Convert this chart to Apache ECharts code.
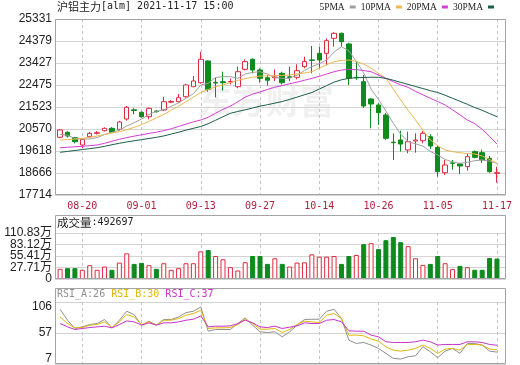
<!DOCTYPE html>
<html><head><meta charset="utf-8">
<script src="https://cdn.jsdelivr.net/npm/echarts@6/dist/echarts.min.js"></script>
<style>html,body{margin:0;padding:0;background:#fff}#c{width:520px;height:365px}</style>
</head><body><div id="c"></div>
<script>
// ---------------- data ----------------
const productName = '沪铝主力';
const productCode = '[alm]';
const stamp = '2021-11-17 15:00';
const dates = ['08-17','08-18','08-19','08-20','08-23','08-24','08-25','08-26','08-27','08-30','08-31',
  '09-01','09-02','09-03','09-06','09-07','09-08','09-09','09-10','09-13','09-14','09-15','09-16','09-17',
  '09-22','09-23','09-24','09-27','09-28','09-29','09-30','10-08','10-11','10-12','10-13','10-14','10-15',
  '10-18','10-19','10-20','10-21','10-22','10-25','10-26','10-27','10-28','10-29','11-01','11-02','11-03',
  '11-04','11-05','11-08','11-09','11-10','11-11','11-12','11-15','11-16','11-17'];
const xTickLabels = ['08-20','09-01','09-13','09-27','10-14','10-26','11-05','11-17'];
const priceTicks = ['17714','18666','19618','20570','21523','22475','23427','24379','25331'];
const volTicks = ['0','27.71万','55.41万','83.12万','110.83万'];
const volTickValues = [0, 277075, 554150, 831225, 1108300];
const rsiTicks = ['7','57','106'];
const rsiTickValues = [7, 56.5, 106];

const open  = [20211,20428,20194,19878,20237,20381,20497,20600,20557,21003,21400,21293,21103,21350,21393,21730,21752,21968,22402,22575,23514,22590,22618,22600,22402,23154,23587,23124,22790,22790,22980,22830,22808,23268,23560,23846,23846,24496,24712,24250,22808,22618,21869,21609,21176,20000,20094,19662,20051,20064,20237,19777,18680,19100,19056,18940,19590,19547,19302,18650];
const close = [20527,20268,20021,20124,20381,20410,20600,20428,20873,21510,21370,21103,21466,21320,21752,21760,21925,22475,22648,23587,22288,22560,22575,22625,23050,23485,23124,22764,22680,22820,22575,22800,23095,23485,23540,23557,24394,24712,24349,22764,22790,21566,21652,21276,20168,19980,19921,20021,20094,20384,19835,18723,19013,19085,18970,19374,19345,19230,18723,18680];
const low   = [20170,20200,19950,19735,20200,20330,20460,20400,20500,20930,21207,21060,20990,21280,21350,21690,21720,21930,22380,22540,22186,21942,22230,22500,22330,23100,22980,22575,22450,22650,22500,22650,22720,23197,22980,23197,23340,24134,24134,22475,22700,21480,20600,20743,20100,19230,19590,19518,19545,19950,19705,18506,18580,18810,18622,18766,19300,19100,18680,18247];
const high  = [20570,20470,20230,20150,20440,20480,20640,20650,20920,21566,21470,21330,21500,21380,21968,21820,22085,22520,22864,23916,23540,22790,23050,22750,23268,23587,23630,23197,22900,23150,23050,23268,23370,23700,24163,24134,24495,24760,24740,24300,23500,22908,21900,21700,21263,20384,20497,20453,20384,20480,20340,19850,19230,19230,19100,19518,19640,19680,19400,18939];
const volume = [245000,261000,261000,221000,333000,221000,300000,221000,395000,618000,364000,388000,333000,245000,380000,221000,261000,380000,380000,666000,697000,554000,476000,285000,205000,404000,554000,554000,364000,499000,364000,300000,395000,402000,594000,538000,538000,554000,364000,554000,578000,839000,863000,720000,935000,1013000,887000,792000,499000,340000,364000,554000,380000,238000,316000,285000,221000,221000,507000,492697];

const ma5  = [20341,20300,20160,20138,20140,20200,20330,20420,20520,20700,20843,21000,21200,21330,21400,21550,21700,21900,22100,22475,22548,22800,22835,22835,22764,22950,23020,23050,22950,22800,22764,22764,22900,23100,23268,23400,23557,23900,24134,23950,23500,23000,22300,21850,21350,20817,20350,20021,19930,19830,19600,19445,19250,19150,19085,19130,19200,19229,19180,19085];
const ma10 = [20094,20110,20130,20168,20210,20267,20330,20400,20454,20540,20640,20760,20900,21050,21200,21380,21560,21750,21950,22150,22280,22400,22475,22580,22680,22750,22810,22864,22870,22880,22890,22908,22950,23000,23050,23200,23350,23480,23540,23557,23500,23380,23200,22980,22764,22300,21826,21380,20960,20520,20094,19850,19662,19590,19545,19510,19488,19400,19250,19085];
const ma20 = [19761,19780,19800,19820,19850,19878,19950,20040,20124,20200,20260,20320,20380,20430,20500,20580,20680,20780,20880,20960,21080,21250,21420,21560,21750,21950,22080,22172,22280,22380,22450,22530,22600,22680,22760,22850,22950,23050,23120,23150,23140,23100,23050,22900,22764,22620,22480,22374,22200,22050,21900,21760,21610,21400,21180,20960,20800,20560,20250,19921];
const ma30 = [19562,19600,19640,19680,19720,19760,19820,19890,19952,20010,20060,20110,20160,20210,20270,20350,20430,20520,20600,20680,20800,20950,21100,21250,21330,21400,21480,21560,21620,21690,21760,21850,21950,22050,22150,22300,22450,22600,22700,22764,22790,22800,22810,22808,22760,22680,22590,22500,22410,22320,22230,22150,22030,21900,21770,21640,21500,21380,21240,21103];
const maNames = ['5PMA','10PMA','20PMA','30PMA'];

const rsiA = [94.4,76.9,63.7,66.3,70,71.6,78,64.7,76.9,91.2,85.9,69,75.3,69,78,78,82.2,89.1,91.2,98.1,59.4,62.1,62.1,62.1,71.6,80.6,69,58.4,57.3,58.4,50.4,58.4,69,78,78.5,78.5,91.2,94.4,79.6,45,39.8,41.4,37.2,31.9,23.9,16,14.9,18.6,20.2,34.5,26.6,17,27.6,31.9,23.9,39.8,39.8,37.2,27.6,26];
const rsiB = [82.2,71.6,64.7,65.2,69,70,74.3,65.2,74.3,85.9,82.2,70,74.3,69,76.9,76.9,79.6,84.9,87.5,92.8,63.7,64.7,64.7,65.2,70,78.5,71.6,62.6,62.6,63.7,57.3,62.1,70,75.3,74.3,73.2,84.9,87.5,79.6,53,53.1,52,46.7,43.5,34.5,29.2,27.6,29.2,31.9,37.2,31.9,23.9,30.8,31.9,29.2,38.2,38.2,37.2,30.8,30];
const rsiC = [71.6,66.3,62.1,63.7,65.2,66.3,67.4,64.7,70,75.8,74.3,69,72.7,69,72.7,72.7,74.3,76.9,78.5,83.8,66.3,67.4,67.4,67.9,71.6,76.9,72.7,66.3,65.2,67.4,63.7,65.8,67.9,72.7,71.6,71.6,76.9,78,74.3,60,59.4,59.4,53.1,50.4,42.5,41.4,41.4,41.4,42.5,45.1,42.5,37.2,38.2,38.2,38.2,42.5,42.5,41.4,38.2,37];
const rsiNames = ['RSI_A','RSI_B','RSI_C'];

// ---------------- style / layout ----------------
const RED = '#dd2c3e', GREEN = '#0e8a1e';
const maColors = ['#a0a0a0','#ecb850','#d63cd6','#1b5e4a'];
const rsiColors = ['#909090','#e3b70c','#c832c8'];
const GRID_L = 55, GRID_W = 451;
const X_MIN = -0.69, X_MAX = 60.22;
const FRAME = '#a4a4a4', SPLIT = '#d4d4d4', VDASH = '#c4c4c4';
const MONO = "'DejaVu Sans Mono','Liberation Mono',monospace";
const CJK = "'Noto Sans CJK SC',sans-serif";
const SANS = "'Liberation Sans','Noto Sans CJK SC',sans-serif";

const tickIdx = xTickLabels.map(d => dates.indexOf(d));
const pMin = +priceTicks[0], pMax = +priceTicks[priceTicks.length - 1];
const pInt = (pMax - pMin) / (priceTicks.length - 1);
const vInt = volTickValues[1] - volTickValues[0];
const vMin = volTickValues[0], vMax = volTickValues[volTickValues.length - 1];
const rInt = rsiTickValues[1] - rsiTickValues[0];
const pair = arr => arr.map((v, i) => [i, v]);

function xAxisFor(gi, showLabel) {
  return {
    type: 'value', gridIndex: gi, min: X_MIN, max: X_MAX,
    axisLine: { show: false },
    axisTick: { show: false, customValues: tickIdx },
    axisLabel: { show: showLabel, customValues: tickIdx, formatter: v => dates[Math.round(v)],
      color: '#b41e3c', fontFamily: MONO, fontSize: 10, margin: 6 },
    splitLine: { show: true, lineStyle: { color: VDASH, type: [3, 3], width: 1 } }
  };
}
function baseY(gi) {
  return { type: 'value', gridIndex: gi, position: 'left',
    axisLine: { show: false }, axisTick: { show: false },
    splitLine: { show: true, lineStyle: { color: SPLIT, width: 1 } } };
}
const volLabel = (vals) => ({
  customValues: vals, formatter: v => volTicks[volTickValues.indexOf(v)] ?? volTicks[Math.round((v - vMin) / vInt)],
  color: '#222', fontFamily: SANS, fontSize: 12, margin: 3, verticalAlign: 'middle', padding: [0, 0, 4, 0],
  showMinLabel: true, showMaxLabel: true
});

const candleData = open.map((o, i) => [i, o, close[i], low[i], high[i]]);
const volData = volume.map((v, i) => {
  const up = i === 0 ? close[0] >= open[0] : close[i] >= close[i - 1];
  return { value: [i, v], itemStyle: up ? { color: '#fff', borderColor: RED, borderWidth: 1 } : { color: GREEN, borderColor: GREEN, borderWidth: 1 } };
});
const maData = [ma5, ma10, ma20, ma30];
const rsiData = [rsiA, rsiB, rsiC];

const series = [{
  type: 'candlestick', name: 'K', xAxisIndex: 0, yAxisIndex: 0, data: candleData, barWidth: 5,
  itemStyle: { color: '#fff', color0: GREEN, borderColor: RED, borderColor0: GREEN, borderWidth: 1 }
}];
maNames.forEach((n, k) => series.push({
  type: 'line', name: n, xAxisIndex: 0, yAxisIndex: 0, data: pair(maData[k]), symbol: 'none',
  lineStyle: { color: maColors[k], width: 1 }, itemStyle: { color: maColors[k] }, z: 3
}));
series.push({ type: 'bar', name: '成交量', xAxisIndex: 1, yAxisIndex: 1, data: volData, barWidth: 5 });
rsiNames.forEach((n, k) => series.push({
  type: 'line', name: n, xAxisIndex: 2, yAxisIndex: 2, data: pair(rsiData[k]), symbol: 'none',
  lineStyle: { color: rsiColors[k], width: 1 }, itemStyle: { color: rsiColors[k] }
}));

const rsiHeader = rsiNames.map((n, k) => `{r${k}|${n}:${Math.round(rsiData[k][rsiData[k].length - 1])}}`).join('{s| }');

const option = {
  animation: false,
  backgroundColor: '#fff',
  grid: [
    { left: GRID_L, width: GRID_W, top: 19, height: 176, show: false, outerBoundsMode: 'none' },
    { left: GRID_L, width: GRID_W, top: 233, height: 46, show: false, outerBoundsMode: 'none' },
    { left: GRID_L, width: GRID_W, top: 302, height: 62, show: false, outerBoundsMode: 'none' }
  ],
  xAxis: [xAxisFor(0, true), xAxisFor(1, false), xAxisFor(2, false)],
  yAxis: [
    Object.assign(baseY(0), { min: pMin, max: pMax, interval: pInt,
      axisLabel: { formatter: v => priceTicks[Math.round((v - pMin) / pInt)], color: '#222', fontFamily: SANS, fontSize: 12, margin: 3 } }),
    Object.assign(baseY(1), { min: vMin, max: vMax, interval: vInt,
      axisLabel: volLabel(volTickValues.filter((v, k) => k % 2 === 0)) }),
    Object.assign(baseY(2), { min: rsiTickValues[0], max: rsiTickValues[rsiTickValues.length - 1], interval: rInt,
      axisLabel: { formatter: v => { const k = Math.round((v - rsiTickValues[0]) / rInt); const t = rsiTicks[k];
          return k === 0 ? `{b|${t}}` : (k === rsiTicks.length - 1 ? `{t|${t}}` : `{m|${t}}`); },
        color: '#222', fontFamily: SANS, fontSize: 12, margin: 3,
        rich: { t: { fontFamily: SANS, fontSize: 12, color: '#222', padding: [9, 0, 0, 0] },
                b: { fontFamily: SANS, fontSize: 12, color: '#222', padding: [0, 0, 11, 0] },
                m: { fontFamily: SANS, fontSize: 12, color: '#222' } } } }),
    // second label axis for the volume panel (odd ticks), sharing the same scale
    Object.assign(baseY(1), { min: vMin, max: vMax, interval: vInt, splitLine: { show: false },
      axisLabel: volLabel(volTickValues.filter((v, k) => k % 2 === 1)) })
  ],
  legend: {
    data: maNames, right: 26, top: 2, padding: 0, itemWidth: 6, itemHeight: 3, itemGap: 5, align: 'right',
    icon: 'rect', selectedMode: false,
    textStyle: { fontFamily: "'Liberation Serif',serif", fontSize: 9.5, color: '#222' }
  },
  graphic: [
    { type: 'text', left: 198, top: 84, z: 0, silent: true,
      style: { text: '东方财富', font: "bold 34px 'Noto Sans CJK SC'", fill: 'rgba(0,0,0,0.06)' } },
    { type: 'text', left: 57, top: 1, z: 10,
      style: { text: `{c|${productName}}{e|${productCode} ${stamp}}`,
        rich: { c: { fontFamily: CJK, fontSize: 11, fill: '#222', color: '#222' }, e: { fontFamily: MONO, fontSize: 10, fill: '#222', color: '#222' } } } },
    { type: 'text', left: 57, top: 217, z: 10,
      style: { text: `{c|成交量}{e|:${volume[volume.length - 1]}}`,
        rich: { c: { fontFamily: CJK, fontSize: 11.5, fill: '#222', color: '#222' }, e: { fontFamily: MONO, fontSize: 10, fill: '#222', color: '#222' } } } },
    { type: 'text', left: 57, top: 289, z: 10,
      style: { text: rsiHeader,
        rich: { r0: { fontFamily: MONO, fontSize: 10, fill: rsiColors[0], color: rsiColors[0] },
                r1: { fontFamily: MONO, fontSize: 10, fill: rsiColors[1], color: rsiColors[1] },
                r2: { fontFamily: MONO, fontSize: 10, fill: rsiColors[2], color: rsiColors[2] },
                s: { fontFamily: MONO, fontSize: 10 } } } },
    { type: 'rect', z: 20, silent: true, shape: { x: 55.5, y: 19.5, width: 450, height: 175 },
      style: { fill: 'none', stroke: FRAME, lineWidth: 1 } },
    { type: 'rect', z: 20, silent: true, shape: { x: 55.5, y: 215.5, width: 450, height: 63 },
      style: { fill: 'none', stroke: FRAME, lineWidth: 1 } },
    { type: 'rect', z: 20, silent: true, shape: { x: 55.5, y: 288.5, width: 450, height: 75 },
      style: { fill: 'none', stroke: FRAME, lineWidth: 1 } }
  ],
  series: series
};
const chart = echarts.init(document.getElementById('c'), null, { renderer: 'canvas' });
chart.setOption(option);
</script>
</body></html>
